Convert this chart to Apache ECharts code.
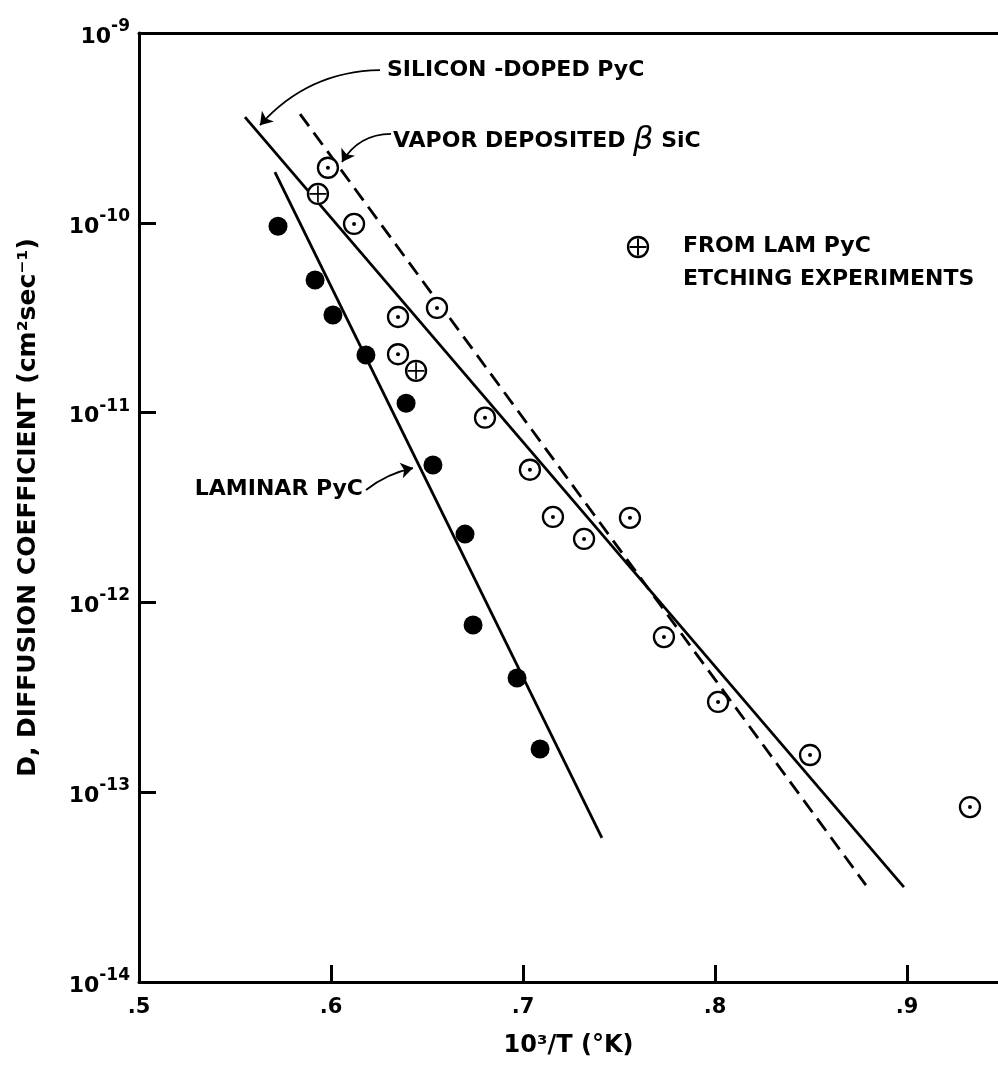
<!DOCTYPE html>
<html><head><meta charset="utf-8">
<script src="https://cdn.jsdelivr.net/npm/echarts@6/dist/echarts.min.js"></script>
<style>html,body{margin:0;padding:0;background:#fff}#c{width:998px;height:1071px}</style>
</head><body><div id="c"></div>
<script>
// ---- data ----
const xTickLabels = ['.5', '.6', '.7', '.8', '.9'];
const yExponents = [-14, -13, -12, -11, -10, -9];

// Laminar PyC (filled circles)
const laminarX = [0.5724, 0.5917, 0.6010, 0.6182, 0.6391, 0.6531, 0.6698, 0.6740, 0.6969, 0.7089];
const laminarD = [9.6e-11, 5.0e-11, 3.27e-11, 2.01e-11, 1.12e-11, 5.3e-12, 2.29e-12, 7.6e-13, 4.0e-13, 1.69e-13];

// Vapor deposited beta SiC (circled dot)
const sicX = [0.5984, 0.6120, 0.6552, 0.6349, 0.6349, 0.6802, 0.7036, 0.7156, 0.7557, 0.7318, 0.7734, 0.8016, 0.8495, 0.9328];
const sicD = [1.95e-10, 9.86e-11, 3.56e-11, 3.19e-11, 2.03e-11, 9.4e-12, 5.0e-12, 2.82e-12, 2.79e-12, 2.16e-12, 6.57e-13, 2.99e-13, 1.57e-13, 8.35e-14];

// From LAM PyC etching experiments (circled plus)
const etchX = [0.5932, 0.6443];
const etchD = [1.42e-10, 1.66e-11];

// Fitted lines
const laminarFitX = [0.5708, 0.7411];
const laminarFitD = [1.85e-10, 5.74e-14];
const siDopedFitX = [0.5552, 0.8984];
const siDopedFitD = [3.6e-10, 3.16e-14];
const sicFitX = [0.5839, 0.8786];
const sicFitD = [3.74e-10, 3.24e-14];

// ---- build ----
const pair = (xs, ys) => xs.map((x, i) => [x, ys[i]]);
const FONT = '"DejaVu Sans", "Liberation Sans", sans-serif';
const chart = echarts.init(document.getElementById('c'), null, {renderer: 'canvas'});

const xLabelMap = {};
xTickLabels.forEach(l => { xLabelMap[(parseFloat('0' + l)).toFixed(1)] = l; });
const expSet = new Set(yExponents);

const lineBase = {type: 'line', symbol: 'none', silent: true, z: 3};
const txt = (extra) => Object.assign({fontFamily: FONT, fontSize: 22, fontWeight: 'bold', fill: '#000', align: 'left', verticalAlign: 'middle'}, extra);

const option = {
  backgroundColor: '#fff',
  animation: false,
  grid: {left: 139, right: 0, top: 33, bottom: 89, show: false},
  xAxis: [{
    type: 'value', min: 0.5, max: 0.9474, interval: 0.1,
    name: '10³/T (°K)', nameLocation: 'middle', nameGap: 52,
    nameTextStyle: {fontFamily: FONT, fontSize: 24, fontWeight: 'bold', color: '#000'},
    axisLine: {lineStyle: {color: '#000', width: 3}},
    axisTick: {inside: true, length: 17, lineStyle: {color: '#000', width: 3}},
    splitLine: {show: false},
    axisLabel: {
      fontFamily: FONT, fontSize: 21, fontWeight: 'bold', color: '#000', margin: 15, showMaxLabel: false,
      formatter: v => xLabelMap[v.toFixed(1)] || ''
    }
  }, {
    type: 'value', position: 'top', min: 0.5, max: 0.9474,
    axisLine: {lineStyle: {color: '#000', width: 3}},
    axisTick: {show: false}, axisLabel: {show: false}, splitLine: {show: false}
  }],
  yAxis: {
    type: 'log', logBase: 10, min: 1e-14, max: 1e-9,
    name: 'D, DIFFUSION COEFFICIENT (cm²sec⁻¹)', nameLocation: 'middle', nameGap: 98,
    nameTextStyle: {fontFamily: FONT, fontSize: 25, fontWeight: 'bold', color: '#000'},
    axisLine: {lineStyle: {color: '#000', width: 3}},
    axisTick: {inside: true, length: 17, lineStyle: {color: '#000', width: 3}},
    minorTick: {show: false},
    splitLine: {show: false},
    axisLabel: {
      margin: 9,
      formatter: v => {
        const e = Math.round(Math.log10(v));
        if (!expSet.has(e)) return '';
        return '{b|10}{s|' + String(e) + '}';
      },
      rich: {
        b: {fontFamily: FONT, fontSize: 22, fontWeight: 'bold', color: '#000', verticalAlign: 'bottom'},
        s: {fontFamily: FONT, fontSize: 17, fontWeight: 'bold', color: '#000', verticalAlign: 'bottom', padding: [0, 0, 13, 0]}
      }
    }
  },
  series: [
    Object.assign({}, lineBase, {name: 'Laminar PyC fit', data: pair(laminarFitX, laminarFitD),
      lineStyle: {color: '#000', width: 2.8}}),
    Object.assign({}, lineBase, {name: 'Silicon-doped PyC fit', data: pair(siDopedFitX, siDopedFitD),
      lineStyle: {color: '#000', width: 2.8}}),
    Object.assign({}, lineBase, {name: 'Vapor deposited SiC fit', data: pair(sicFitX, sicFitD),
      lineStyle: {color: '#000', width: 2.8, type: [15, 8]}}),
    {type: 'lines', coordinateSystem: 'cartesian2d', name: 'annotation arrows', silent: true, z: 8,
      symbol: ['none', 'arrow'], symbolSize: [9, 12],
      lineStyle: {color: '#000', width: 1.8, opacity: 1},
      data: [
        {coords: [[0.62552, 6.38e-10], [0.5630, 3.27e-10]], lineStyle: {curveness: -0.22}},
        {coords: [[0.63125, 2.94e-10], [0.60573, 2.09e-10]], lineStyle: {curveness: -0.28}},
        {coords: [[0.61823, 3.91e-12], [0.64271, 5.10e-12]], lineStyle: {curveness: 0.12}}
      ]},
    {type: 'scatter', name: 'Laminar PyC', data: pair(laminarX, laminarD), symbol: 'circle', symbolSize: 19,
      itemStyle: {color: '#000', opacity: 1}, z: 5},
    {type: 'scatter', name: 'Vapor deposited β SiC', data: pair(sicX, sicD), symbol: 'circle', symbolSize: 20,
      itemStyle: {color: '#fff', borderColor: '#000', borderWidth: 2.3, opacity: 1}, z: 5},
    {type: 'scatter', name: 'SiC centre dot', data: pair(sicX, sicD), symbol: 'circle', symbolSize: 4,
      itemStyle: {color: '#000', opacity: 1}, z: 6},
    {type: 'scatter', name: 'From LAM PyC etching', data: pair(etchX, etchD), symbol: 'circle', symbolSize: 20,
      itemStyle: {color: '#fff', borderColor: '#000', borderWidth: 2.3, opacity: 1}, z: 5},
    {type: 'scatter', name: 'etch plus', data: pair(etchX, etchD),
      symbol: 'path://M9,0h2v20h-2zM0,9h20v2h-20z', symbolSize: 17,
      itemStyle: {color: '#000', opacity: 1}, z: 6}
  ],
  graphic: [
    {type: 'text', x: 387, y: 70, z: 10, style: txt({text: 'SILICON -DOPED PyC'})},
    {type: 'text', x: 393, y: 141, z: 10, style: {
      text: '{t|VAPOR DEPOSITED }{g|β}{t| SiC}', align: 'left', verticalAlign: 'middle',
      rich: {t: {fontFamily: FONT, fontSize: 22, fontWeight: 'bold', fill: '#000', color: '#000'},
             g: {fontFamily: FONT, fontSize: 32, fontStyle: 'italic', fill: '#000', color: '#000'}}}},
    {type: 'text', x: 363, y: 489, z: 10, style: txt({text: 'LAMINAR PyC', align: 'right'})},
    {type: 'circle', z: 10, shape: {cx: 638, cy: 247, r: 10}, style: {fill: '#fff', stroke: '#000', lineWidth: 2.3}},
    {type: 'line', z: 11, shape: {x1: 638, y1: 238.5, x2: 638, y2: 255.5}, style: {stroke: '#000', lineWidth: 2}},
    {type: 'line', z: 11, shape: {x1: 629.5, y1: 247, x2: 646.5, y2: 247}, style: {stroke: '#000', lineWidth: 2}},
    {type: 'text', x: 683, y: 246, z: 10, style: txt({text: 'FROM LAM PyC'})},
    {type: 'text', x: 683, y: 279, z: 10, style: txt({text: 'ETCHING EXPERIMENTS'})}
  ]
};
chart.setOption(option);
</script>
</body></html>
